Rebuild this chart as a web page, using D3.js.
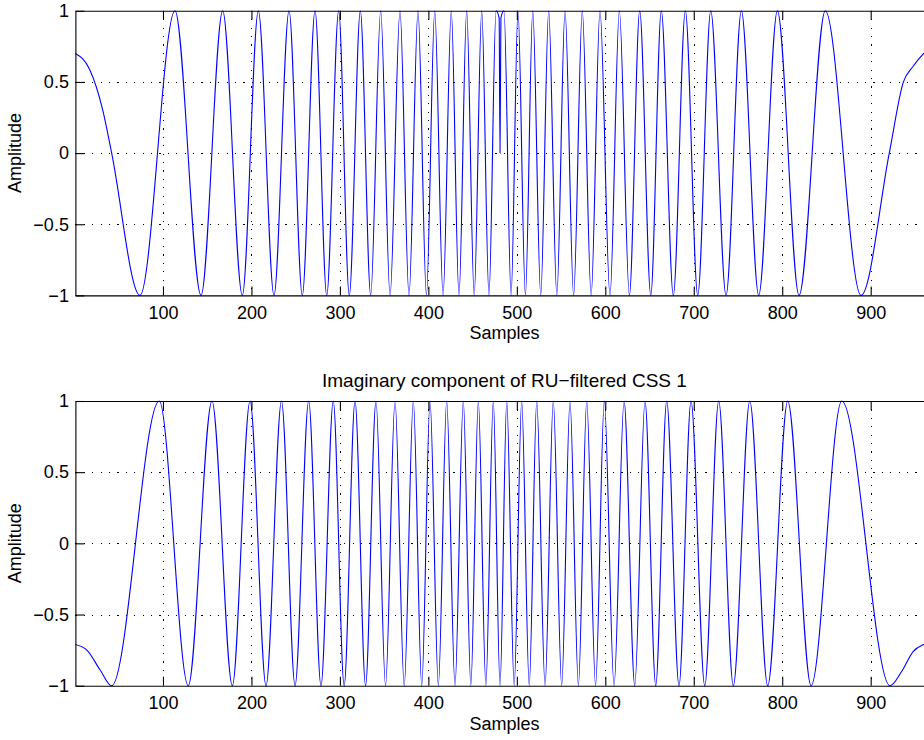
<!DOCTYPE html>
<html>
<head>
<meta charset="utf-8">
<script src="https://cdn.jsdelivr.net/npm/d3@7"></script>
<style>
  html, body { margin: 0; padding: 0; background: #fff; }
  svg { display: block; }
</style>
</head>
<body>
<svg id="fig" width="924" height="740"></svg>
<script>
// Sample axis range and tick layout
const sampleRange = [1, 971];
const xTickValues = [100, 200, 300, 400, 500, 600, 700, 800, 900];
const yTickValues = [-1, -0.5, 0, 0.5, 1];
const yTickLabels = ["\u22121", "\u22120.5", "0", "0.5", "1"];

// Real component: [sample, amplitude] at the extrema and edge points
const realPoints = [
  [1, 0.70], [17, 0.59], [32, 0.30], [42, 0], [74.0, -1],
  [113.6, 1], [143.0, -1], [167.5, 1], [189.7, -1], [207.8, 1], [225.5, -1],
  [242.5, 1], [257.5, -1], [271.9, 1], [285.1, -1], [298.6, 1], [310.6, -1],
  [323.1, 1], [334.8, -1], [346.1, 1], [356.7, -1], [367.9, 1], [378.1, -1],
  [388.3, 1], [397.8, -1], [407.2, 1], [416.6, -1], [425.9, 1], [434.6, -1],
  [443.3, 1], [451.8, -1], [460.3, 1], [468.5, -1], [476.5, 1],
  [480, 0.95], [481, 0], [482, 0.95],
  [485.5, 1], [493.5, -1], [501.3, 1], [509.7, -1], [518.0, 1], [527.0, -1],
  [536.0, 1], [545.2, -1], [554.5, 1], [564.2, -1], [574.0, 1], [584.0, -1],
  [594.0, 1], [605.3, -1], [615.9, 1], [627.2, -1], [638.9, 1], [651.4, -1],
  [663.3, 1], [676.9, -1], [690.5, 1], [704.5, -1], [719.2, 1], [736.5, -1],
  [753.8, 1], [773.4, -1], [794.5, 1], [819.0, -1], [848.7, 1], [889.1, -1],
  [921, 0], [937, 0.5], [948, 0.61], [960, 0.70], [971, 0.76]
];

// Imaginary component: [sample, amplitude] at the extrema and edge points
const imagPoints = [
  [1, -0.71], [14, -0.75], [29, -0.89], [42.0, -1],
  [95.8, 1], [128.6, -1], [155.4, 1], [178.4, -1], [198.4, 1], [216.5, -1],
  [234.0, 1], [249.3, -1], [264.7, 1], [278.6, -1], [292.5, 1], [304.8, -1],
  [317.1, 1], [329.0, -1], [340.8, 1], [351.6, -1], [362.3, 1], [372.7, -1],
  [383.0, 1], [392.5, -1], [401.9, 1], [411.3, -1], [420.7, 1], [430.1, -1],
  [439.5, 1], [448.0, -1], [456.5, 1], [465.0, -1], [473.4, 1], [481.0, -1],
  [488.6, 1], [497.0, -1], [505.5, 1], [514.0, -1], [522.5, 1], [531.9, -1],
  [541.2, 1], [550.7, -1], [560.1, 1], [569.6, -1], [579.0, 1], [589.0, -1],
  [598.9, 1], [609.9, -1], [621.2, 1], [633.3, -1], [644.9, 1], [657.0, -1],
  [669.4, 1], [683.3, -1], [696.9, 1], [712.4, -1], [728.2, 1], [744.7, -1],
  [763.3, 1], [783.6, -1], [806.2, 1], [832.6, -1], [867.3, 1], [921.9, -1],
  [935, -0.90], [948, -0.76], [960, -0.71], [971, -0.69]
];

const panels = [
  { title: null, points: realPoints, top: 10.8, bottom: 295.4 },
  { title: "Imaginary component of RU\u2212filtered CSS 1", points: imagPoints, top: 401.0, bottom: 685.7 }
];

const FONT = "'Liberation Sans', Arial, Helvetica, sans-serif";
const FS = 18;
const TITLE_FS = 19;
const left = 75.4, right = 933.5;

const svg = d3.select("#fig");
const x = d3.scaleLinear().domain(sampleRange).range([left, right]);

panels.forEach(p => {
  const y = d3.scaleLinear().domain([-1, 1]).range([p.bottom, p.top]);
  const g = svg.append("g");

  // dotted grid
  const grid = g.append("g")
    .attr("stroke", "#000")
    .attr("stroke-width", 1)
    .attr("stroke-dasharray", "1.2,7.2")
    .attr("shape-rendering", "crispEdges");
  grid.selectAll("line.gx").data(xTickValues).join("line")
    .attr("x1", d => Math.round(x(d)) + 0.5).attr("x2", d => Math.round(x(d)) + 0.5)
    .attr("y1", p.top).attr("y2", p.bottom);
  grid.selectAll("line.gy").data(yTickValues.slice(1, -1)).join("line")
    .attr("y1", d => Math.round(y(d)) + 0.5).attr("y2", d => Math.round(y(d)) + 0.5)
    .attr("x1", left).attr("x2", right);

  // signal
  const line = d3.line()
    .x(d => x(d[0]))
    .y(d => y(d[1]))
    .curve(d3.curveMonotoneX);
  g.append("path")
    .datum(p.points)
    .attr("fill", "none")
    .attr("stroke", "#0000ff")
    .attr("stroke-width", 1.1)
    .attr("d", line);

  // axes (ticks point inward, box on all four sides)
  const styleAxis = sel => {
    sel.attr("font-family", FONT).attr("font-size", FS);
    sel.selectAll("path.domain").attr("stroke", "#000").attr("stroke-width", 1.1);
    sel.selectAll(".tick line").attr("stroke", "#000").attr("stroke-width", 1.1);
    sel.selectAll(".tick text").attr("fill", "#000");
  };

  g.append("g")
    .attr("transform", `translate(0,${p.bottom})`)
    .call(d3.axisBottom(x).tickValues(xTickValues).tickSizeInner(-9).tickSizeOuter(0).tickPadding(11))
    .call(styleAxis);
  g.append("g")
    .attr("transform", `translate(0,${p.top})`)
    .call(d3.axisTop(x).tickValues(xTickValues).tickSizeInner(-9).tickSizeOuter(0).tickFormat(""))
    .call(styleAxis);
  g.append("g")
    .attr("transform", `translate(${left},0)`)
    .call(d3.axisLeft(y).tickValues(yTickValues).tickSizeInner(-9).tickSizeOuter(0).tickPadding(6.5)
      .tickFormat((d, i) => yTickLabels[i]))
    .call(styleAxis);
  g.append("g")
    .attr("transform", `translate(${right},0)`)
    .call(d3.axisRight(y).tickValues(yTickValues).tickSizeInner(-9).tickSizeOuter(0).tickFormat(""))
    .call(styleAxis);

  // axis titles
  g.append("text")
    .attr("x", (left + right) / 2).attr("y", p.bottom + 44)
    .attr("text-anchor", "middle")
    .attr("font-family", FONT).attr("font-size", FS)
    .text("Samples");
  g.append("text")
    .attr("transform", `translate(21,${(p.top + p.bottom) / 2}) rotate(-90)`)
    .attr("text-anchor", "middle")
    .attr("font-family", FONT).attr("font-size", FS)
    .text("Amplitude");
  if (p.title) {
    g.append("text")
      .attr("x", (left + right) / 2).attr("y", p.top - 14.5)
      .attr("text-anchor", "middle")
      .attr("font-family", FONT).attr("font-size", TITLE_FS)
      .text(p.title);
  }
});
</script>
</body>
</html>
